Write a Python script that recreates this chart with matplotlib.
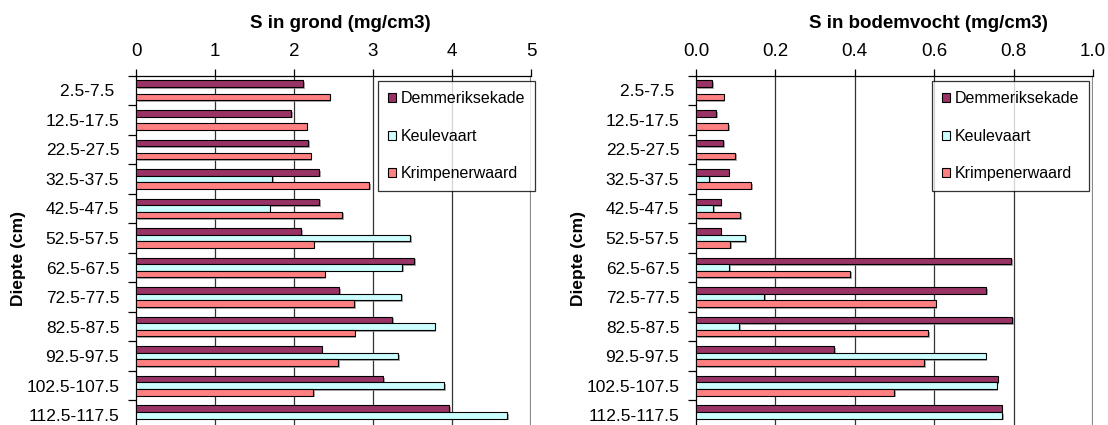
import numpy as np
import matplotlib
matplotlib.use("Agg")
import matplotlib.pyplot as plt
from matplotlib.patches import Patch
from matplotlib import patheffects as pe

plt.rcParams['font.family'] = ['Liberation Sans', 'DejaVu Sans']

# Depth classes (cm), top to bottom
depths = ["2.5-7.5 ", "12.5-17.5", "22.5-27.5", "32.5-37.5", "42.5-47.5",
          "52.5-57.5", "62.5-67.5", "72.5-77.5", "82.5-87.5", "92.5-97.5",
          "102.5-107.5", "112.5-117.5"]
series_names = ["Demmeriksekade", "Keulevaart", "Krimpenerwaard"]
series_colors = ["#993366", "#CCFFFF", "#FF8080"]

nan = np.nan
# S in soil (mg/cm3)
grond_demmeriksekade = [2.12, 1.96, 2.18, 2.32, 2.32, 2.09, 3.52, 2.57, 3.24, 2.35, 3.13, 3.96]
grond_keulevaart = [nan, nan, nan, 1.72, 1.69, 3.47, 3.37, 3.36, 3.78, 3.32, 3.90, 4.70]
grond_krimpenerwaard = [2.45, 2.16, 2.21, 2.95, 2.61, 2.25, 2.39, 2.76, 2.77, 2.56, 2.24, nan]

# S in soil moisture (mg/cm3)
vocht_demmeriksekade = [0.040, 0.051, 0.068, 0.082, 0.062, 0.062, 0.794, 0.731, 0.797, 0.348, 0.760, 0.770]
vocht_keulevaart = [nan, nan, nan, 0.033, 0.044, 0.124, 0.084, 0.172, 0.108, 0.730, 0.757, 0.772]
vocht_krimpenerwaard = [0.070, 0.081, 0.099, 0.139, 0.111, 0.086, 0.389, 0.604, 0.584, 0.574, 0.499, nan]

grond_ticks = [0, 1, 2, 3, 4, 5]
vocht_ticks = [0.0, 0.2, 0.4, 0.6, 0.8, 1.0]

W, H = 1108, 425
fig = plt.figure(figsize=(W / 100, H / 100), dpi=100)


def px_box(x0, x1, ytop, ybot):
    return [x0 / W, 1 - ybot / H, (x1 - x0) / W, (ybot - ytop) / H]


def draw_panel(ax, series, ticks, fmt, title, title_x, ylabel_x, legend_xy):
    n = len(depths)
    y = np.arange(n)
    bh = 0.222
    offsets = [-bh, 0.0, bh]
    shadow = [pe.SimplePatchShadow(offset=(1.2, -1.2), shadow_rgbFace="#888888", alpha=0.7),
              pe.Normal()]
    for vals, off, col in zip(series, offsets, series_colors):
        v = np.asarray(vals, dtype=float)
        m = ~np.isnan(v)
        bars = ax.barh(y[m] + off, v[m], height=bh, color=col,
                       edgecolor="black", linewidth=0.8, zorder=3)
        for b in bars:
            b.set_path_effects(shadow)

    ax.set_ylim(n - 0.5, -0.5)
    ax.set_xlim(ticks[0], ticks[-1])

    # value axis on top with gridlines
    ax.xaxis.tick_top()
    ax.set_xticks(ticks)
    ax.set_xticklabels([fmt(t) for t in ticks], fontsize=13.5)
    ax.tick_params(axis="x", direction="out", length=5, width=0.9,
                   pad=6.5, color="black")
    for t in ticks[1:-1]:
        ax.axvline(t, color="#333333", linewidth=0.9, zorder=1)
    ax.axvline(ticks[-1], color="#8a8a8a", linewidth=1.6, zorder=1)

    # category axis: labels at centres, tick marks at class boundaries
    ax.set_yticks(y)
    ax.set_yticklabels(depths, fontsize=12.5)
    ax.tick_params(axis="y", length=0, pad=12)
    ax.set_yticks(np.arange(-0.5, n, 1.0), minor=True)
    ax.tick_params(axis="y", which="minor", direction="out", length=5.5,
                   width=0.9, color="black")

    for s in ["right", "bottom"]:
        ax.spines[s].set_visible(False)
    ax.spines["top"].set_linewidth(0.9)
    ax.spines["left"].set_linewidth(0.9)

    fig.text(title_x / W, 1 - 24 / H, title, fontsize=13.5, fontweight="bold",
             ha="center", va="center")
    fig.text(ylabel_x / W, 1 - 259 / H, "Diepte (cm)", fontsize=12.5,
             fontweight="bold", rotation=90, ha="center", va="center")

    handles = [Patch(facecolor=c, edgecolor="black", linewidth=0.8) for c in series_colors]
    leg = ax.legend(handles, series_names, loc="upper left",
                    bbox_to_anchor=(legend_xy[0] / W, 1 - legend_xy[1] / H),
                    bbox_transform=fig.transFigure, borderaxespad=0,
                    fontsize=11.5, frameon=True, fancybox=False,
                    handlelength=0.5, handleheight=0.5, handletextpad=0.25,
                    labelspacing=1.4, borderpad=0.65)
    leg.get_frame().set_edgecolor("black")
    leg.get_frame().set_linewidth(0.9)
    leg.set_zorder(5)


ax1 = fig.add_axes(px_box(136, 531, 75.5, 430))
draw_panel(ax1, [grond_demmeriksekade, grond_keulevaart, grond_krimpenerwaard],
           grond_ticks, lambda t: f"{t:d}", "S in grond (mg/cm3)",
           340, 19, (378, 81))

ax2 = fig.add_axes(px_box(696, 1093, 75.5, 430))
draw_panel(ax2, [vocht_demmeriksekade, vocht_keulevaart, vocht_krimpenerwaard],
           vocht_ticks, lambda t: f"{t:.1f}", "S in bodemvocht (mg/cm3)",
           928, 578, (932, 81))

fig.savefig("out.png", dpi=100)
